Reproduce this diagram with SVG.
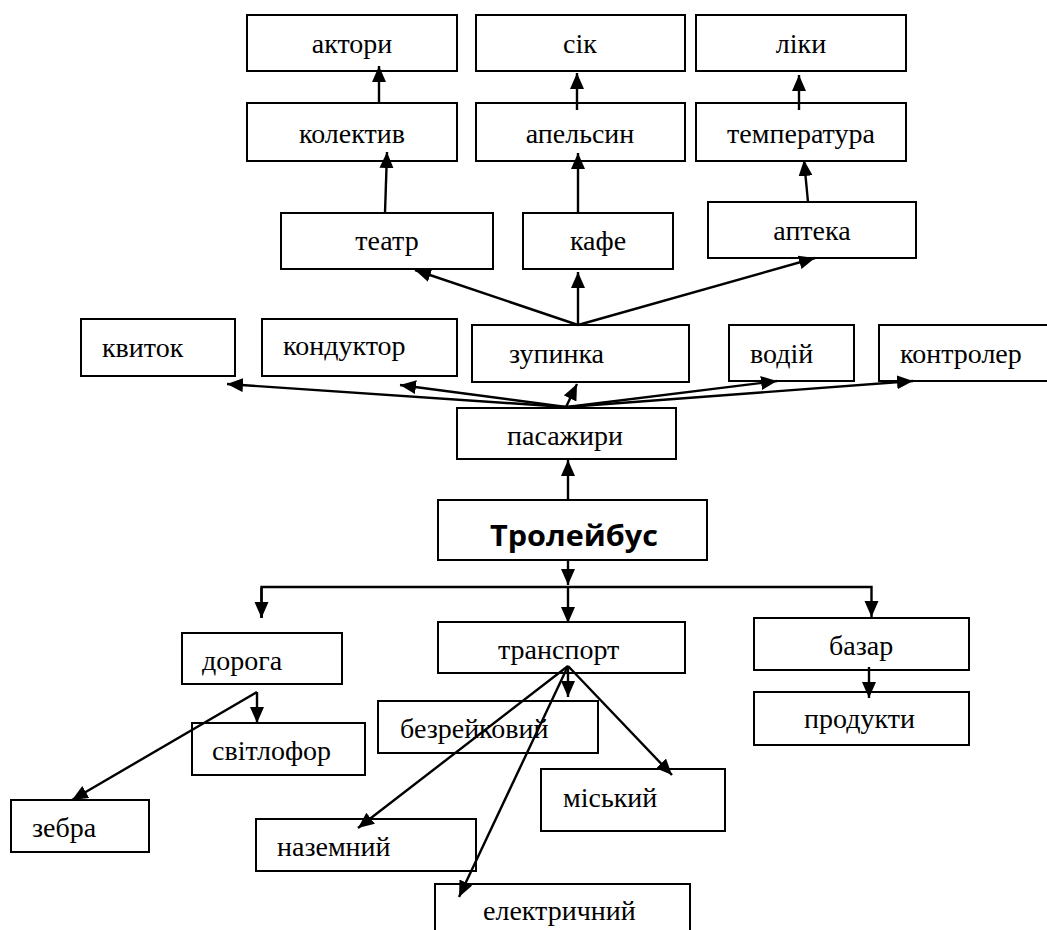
<svg xmlns="http://www.w3.org/2000/svg" width="1047" height="930" viewBox="0 0 1047 930">
<style>
.box{fill:#fff;stroke:#000;stroke-width:2}
.t{font-family:"Liberation Serif","Times New Roman",serif;font-size:28px;fill:#000}
.c{text-anchor:middle}
.b{font-family:"Open Sans","Liberation Sans",sans-serif;font-size:29px;font-weight:bold;fill:#000;text-anchor:middle}
.ln{fill:none;stroke:#000;stroke-width:2.4}
</style>
<defs>
<marker id="ah" markerUnits="userSpaceOnUse" markerWidth="17" markerHeight="15" refX="16" refY="7" orient="auto">
<path d="M0,0 L16,7 L0,14 z" fill="#000"/>
</marker>
</defs>
<rect width="1047" height="930" fill="#fff"/>
<g id="n-aktory"><rect class="box" x="247" y="15" width="210" height="56"/><text class="t c" x="352" y="53">актори</text></g>
<g id="n-sik"><rect class="box" x="476" y="15" width="209" height="56"/><text class="t c" x="580" y="53">сік</text></g>
<g id="n-liky"><rect class="box" x="696" y="15" width="210" height="56"/><text class="t c" x="801" y="53">ліки</text></g>
<g id="n-kolektyv"><rect class="box" x="247" y="103" width="210" height="58"/><text class="t c" x="352" y="143">колектив</text></g>
<g id="n-apelsyn"><rect class="box" x="476" y="103" width="209" height="58"/><text class="t c" x="580" y="143">апельсин</text></g>
<g id="n-temperatura"><rect class="box" x="696" y="103" width="210" height="58"/><text class="t c" x="801" y="143">температура</text></g>
<g id="n-teatr"><rect class="box" x="281" y="213" width="212" height="56"/><text class="t c" x="387" y="250">театр</text></g>
<g id="n-kafe"><rect class="box" x="523" y="213" width="150" height="56"/><text class="t c" x="598" y="250">кафе</text></g>
<g id="n-apteka"><rect class="box" x="708" y="202" width="208" height="56"/><text class="t c" x="812" y="240">аптека</text></g>
<g id="n-kvytok"><rect class="box" x="81" y="319" width="154" height="57"/><text class="t" x="102" y="357">квиток</text></g>
<g id="n-konduktor"><rect class="box" x="262" y="319" width="195" height="57"/><text class="t" x="283" y="355">кондуктор</text></g>
<g id="n-zupynka"><rect class="box" x="472" y="325" width="217" height="57"/><text class="t" x="509" y="363">зупинка</text></g>
<g id="n-vodii"><rect class="box" x="729" y="325" width="125" height="56"/><text class="t" x="750" y="363">водій</text></g>
<g id="n-kontroler"><rect class="box" x="879" y="325" width="180" height="56"/><text class="t" x="900" y="363">контролер</text></g>
<g id="n-pasazhyry"><rect class="box" x="457" y="408" width="219" height="51"/><text class="t" x="507" y="445">пасажири</text></g>
<g id="n-troleibus"><rect class="box" x="438" y="500" width="269" height="60"/><text class="b" x="574" y="546" textLength="168" lengthAdjust="spacingAndGlyphs">Тролейбус</text></g>
<g id="n-doroha"><rect class="box" x="182" y="633" width="160" height="51"/><text class="t" x="202" y="670">дорога</text></g>
<g id="n-transport"><rect class="box" x="438" y="622" width="247" height="51"/><text class="t" x="498" y="659">транспорт</text></g>
<g id="n-bazar"><rect class="box" x="754" y="618" width="215" height="52"/><text class="t" x="829" y="655">базар</text></g>
<g id="n-bezreikovyi"><rect class="box" x="378" y="701" width="220" height="52"/><text class="t" x="400" y="738">безрейковий</text></g>
<g id="n-svitlofor"><rect class="box" x="192" y="723" width="173" height="52"/><text class="t" x="212" y="760">світлофор</text></g>
<g id="n-produkty"><rect class="box" x="754" y="692" width="215" height="53"/><text class="t" x="804" y="728">продукти</text></g>
<g id="n-miskyi"><rect class="box" x="541" y="769" width="184" height="62"/><text class="t" x="563" y="807">міський</text></g>
<g id="n-zebra"><rect class="box" x="11" y="800" width="138" height="52"/><text class="t" x="32" y="837">зебра</text></g>
<g id="n-nazemnyi"><rect class="box" x="256" y="819" width="220" height="52"/><text class="t" x="277" y="856">наземний</text></g>
<g id="n-elektrychnyi"><rect class="box" x="435" y="884" width="255" height="60"/><text class="t" x="483" y="920">електричний</text></g>
<g id="connectors" class="ln">
<line x1="379" y1="103" x2="379" y2="66" marker-end="url(#ah)"/>
<line x1="577" y1="110" x2="577" y2="73" marker-end="url(#ah)"/>
<line x1="799" y1="110" x2="799" y2="75" marker-end="url(#ah)"/>
<line x1="385" y1="213" x2="387" y2="152" marker-end="url(#ah)"/>
<line x1="578" y1="213" x2="578" y2="153" marker-end="url(#ah)"/>
<line x1="808" y1="202" x2="804" y2="160" marker-end="url(#ah)"/>
<line x1="578" y1="325" x2="415" y2="270" marker-end="url(#ah)"/>
<line x1="578" y1="325" x2="578" y2="272" marker-end="url(#ah)"/>
<line x1="578" y1="325" x2="815" y2="258" marker-end="url(#ah)"/>
<line x1="566" y1="407" x2="227" y2="384" marker-end="url(#ah)"/>
<line x1="566" y1="407" x2="400" y2="385" marker-end="url(#ah)"/>
<line x1="566" y1="407" x2="577" y2="384" marker-end="url(#ah)"/>
<line x1="567" y1="407" x2="777" y2="381" marker-end="url(#ah)"/>
<line x1="567" y1="407" x2="913" y2="381" marker-end="url(#ah)"/>
<line x1="568" y1="500" x2="568" y2="460" marker-end="url(#ah)"/>
<line x1="568" y1="560" x2="568" y2="585" marker-end="url(#ah)"/>
<polyline points="261.5,618 261.5,587 871.5,587 871.5,617" marker-end="url(#ah)"/>
<line x1="261.5" y1="588" x2="261.5" y2="618" marker-end="url(#ah)"/>
<line x1="568" y1="587" x2="568" y2="623" marker-end="url(#ah)"/>
<line x1="257" y1="692" x2="257" y2="723" marker-end="url(#ah)"/>
<line x1="257" y1="692" x2="72" y2="800" marker-end="url(#ah)"/>
<line x1="568" y1="666" x2="568" y2="697" marker-end="url(#ah)"/>
<line x1="568" y1="666" x2="672" y2="775" marker-end="url(#ah)"/>
<line x1="568" y1="666" x2="358" y2="828" marker-end="url(#ah)"/>
<line x1="568" y1="666" x2="459" y2="897" marker-end="url(#ah)"/>
<line x1="869" y1="667" x2="869" y2="698" marker-end="url(#ah)"/>
</g>
</svg>
